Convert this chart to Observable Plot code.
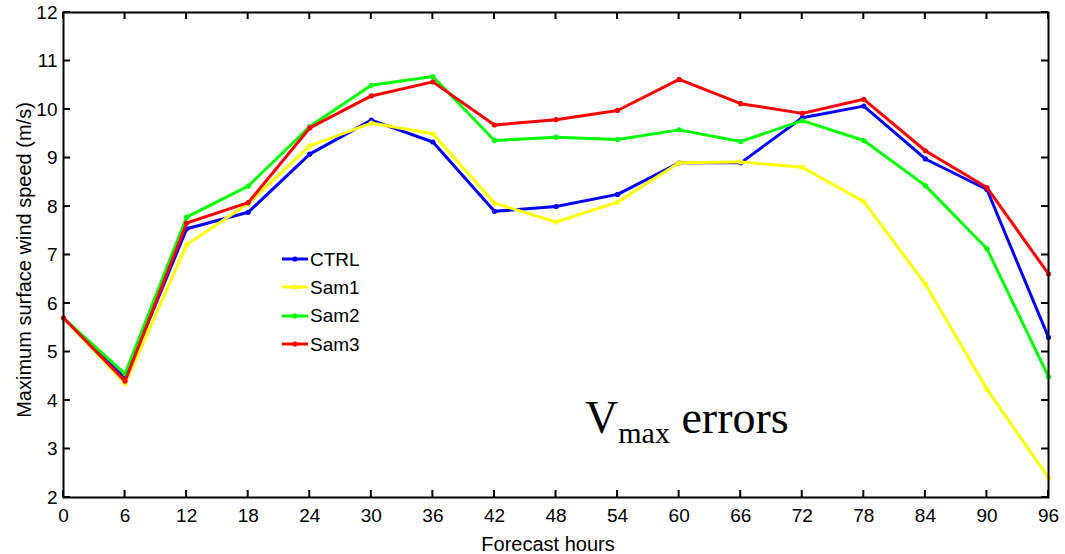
<!DOCTYPE html>
<html>
<head>
<meta charset="utf-8">
<script src="https://cdn.jsdelivr.net/npm/d3@7"></script>
<script src="https://cdn.jsdelivr.net/npm/@observablehq/plot@0.6"></script>
<style>
  body { margin: 0; background: #fff; }
  #wrap { position: relative; width: 1065px; height: 554px; background: #fff; overflow: hidden; }
  #wrap > svg { position: absolute; left: 0; top: 0; }
  #legend { position: absolute; left: 282px; top: 245px; font-family: "Liberation Sans", Arial, sans-serif; font-size: 19px; color: #000; }
  #legend .row { display: flex; align-items: center; height: 28.3px; }
  #legend .row span { margin-left: 1px; line-height: 1; }
  #vmax { position: absolute; left: 585px; top: 394.5px; font-family: "Liberation Serif", "Times New Roman", serif; font-size: 46px; line-height: 1; white-space: nowrap; color: #000; }
  #vmax .sub { font-size: 30px; vertical-align: -10px; }
</style>
</head>
<body>
<div id="wrap"></div>
<script>
// ---- data ----
const hours = [0, 6, 12, 18, 24, 30, 36, 42, 48, 54, 60, 66, 72, 78, 84, 90, 96];
const ctrl = [5.7, 4.45, 7.54, 7.88, 9.08, 9.78, 9.33, 7.9, 8.0, 8.25, 8.9, 8.9, 9.83, 10.07, 8.98, 8.35, 5.3];
const sam1 = [5.7, 4.35, 7.21, 8.06, 9.25, 9.72, 9.5, 8.07, 7.68, 8.09, 8.9, 8.92, 8.81, 8.1, 6.4, 4.23, 2.41];
const sam2 = [5.7, 4.55, 7.78, 8.42, 9.65, 10.5, 10.68, 9.36, 9.43, 9.38, 9.58, 9.34, 9.77, 9.36, 8.43, 7.13, 4.49];
const sam3 = [5.7, 4.4, 7.66, 8.08, 9.62, 10.28, 10.57, 9.68, 9.79, 9.98, 10.62, 10.12, 9.92, 10.21, 9.15, 8.39, 6.61];
const seriesNames = ["CTRL", "Sam1", "Sam2", "Sam3"];
const seriesColors = ["#0000ff", "#ffff00", "#00ff00", "#ff0000"];
const xTicks = hours;
const yTicks = [2, 3, 4, 5, 6, 7, 8, 9, 10, 11, 12];
const xLabel = "Forecast hours";
const yLabel = "Maximum surface wind speed (m/s)";

// ---- layout ----
const W = 1065, H = 554, ML = 63, MR = 17, MT = 12, MB = 57, TICK = 7;

// ---- build table ----
const allSeries = [ctrl, sam1, sam2, sam3];
const rows = [];
allSeries.forEach((vals, si) => vals.forEach((v, i) => rows.push({series: seriesNames[si], hour: hours[i], value: v})));

const seriesMarks = [];
seriesNames.forEach((name, si) => {
  const d = rows.filter(r => r.series === name);
  seriesMarks.push(Plot.line(d, {x: "hour", y: "value", stroke: seriesColors[si], strokeWidth: 3}));
  seriesMarks.push(Plot.dot(d, {x: "hour", y: "value", fill: seriesColors[si], r: 2.6}));
});

const chart = Plot.plot({
  width: W,
  height: H,
  marginLeft: ML,
  marginRight: MR,
  marginTop: MT,
  marginBottom: MB,
  style: {fontFamily: '"Liberation Sans", Arial, sans-serif', fontSize: "19px", color: "#000", background: "#fff", overflow: "visible"},
  x: {domain: [0, 96]},
  y: {domain: [2, 12]},
  marks: [
    ...seriesMarks,
    Plot.frame({stroke: "#000", strokeWidth: 2}),
    Plot.axisX(xTicks, {anchor: "bottom", tickSize: 0, tickPadding: 11, label: null, fontSize: 19}),
    Plot.axisY(yTicks, {anchor: "left", tickSize: 0, tickPadding: 6, label: null, fontSize: 19}),
    Plot.text([xLabel], {frameAnchor: "bottom", text: d => d, dy: 53, dx: -8, textAnchor: "middle", lineAnchor: "bottom", fontSize: 20}),
    Plot.text([yLabel], {frameAnchor: "left", text: d => d, dx: -38.5, dy: 5, rotate: -90, textAnchor: "middle", lineAnchor: "middle", fontSize: 20})
  ]
});

// inward ticks on all four sides, placed with the chart's own scales
const sx = chart.scale("x"), sy = chart.scale("y");
const X0 = ML, X1 = W - MR, Y0 = MT, Y1 = H - MB;
const tg = d3.select(chart).append("g").attr("fill", "none");
const tick = (x1, y1, x2, y2) => tg.append("path").attr("d", `M${x1},${y1}L${x2},${y2}`).attr("stroke", "#000").attr("stroke-width", 2);
for (const t of xTicks) {
  const x = sx.apply(t);
  tick(x, Y1, x, Y1 - TICK);
  tick(x, Y0, x, Y0 + TICK);
}
for (const t of yTicks) {
  const y = sy.apply(t);
  tick(X0, y, X0 + TICK, y);
  tick(X1, y, X1 - TICK, y);
}

const wrap = document.getElementById("wrap");
wrap.appendChild(chart);

// legend
const legend = d3.select(wrap).append("div").attr("id", "legend");
seriesNames.forEach((name, si) => {
  const row = legend.append("div").attr("class", "row");
  const sw = row.append("svg").attr("width", 27).attr("height", 10);
  sw.append("line").attr("x1", 0).attr("x2", 26).attr("y1", 5).attr("y2", 5).attr("stroke", seriesColors[si]).attr("stroke-width", 3);
  sw.append("circle").attr("cx", 13).attr("cy", 5).attr("r", 2.6).attr("fill", seriesColors[si]);
  row.append("span").text(name);
});

// annotation
const vm = d3.select(wrap).append("div").attr("id", "vmax");
vm.append("span").text("V");
vm.append("span").attr("class", "sub").text("max");
vm.append("span").text(" errors");
</script>
</body>
</html>
